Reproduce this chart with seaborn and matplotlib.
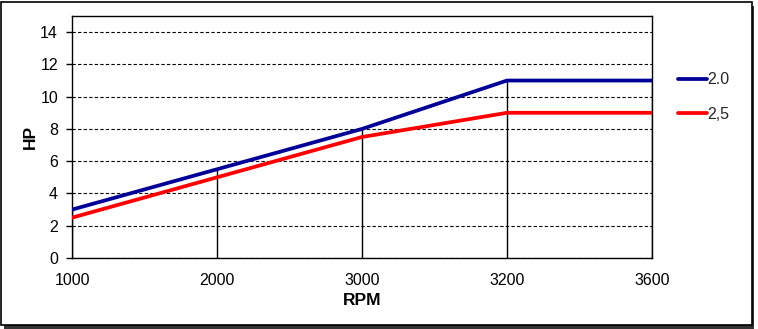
import matplotlib
matplotlib.use("Agg")
import matplotlib.pyplot as plt
from matplotlib.patches import Rectangle
import numpy as np
import pandas as pd
import seaborn as sns

rpm = ["1000", "2000", "3000", "3200", "3600"]
hp_20 = [3.0, 5.5, 8.0, 11.0, 11.0]
hp_25 = [2.5, 5.0, 7.5, 9.0, 9.0]
series_names = ["2.0", "2,5"]
series_colors = ["#000099", "#FF0000"]
y_ticks = [0, 2, 4, 6, 8, 10, 12, 14]

sns.set_theme(style="white")
plt.rcParams["font.family"] = ["Liberation Sans", "DejaVu Sans"]

W, H, DPI = 758, 329, 100
fig = plt.figure(figsize=(W / DPI, H / DPI), dpi=DPI)

# outer chart frame with a drop shadow, kept behind the axes
fig.patches.append(Rectangle((4 / W, 0 / H), 750 / W, 323 / H, transform=fig.transFigure,
                             facecolor="#333333", edgecolor="none", zorder=-3))
fig.patches.append(Rectangle((1 / W, 4 / H), 751 / W, 323 / H, transform=fig.transFigure,
                             facecolor="white", edgecolor="black", linewidth=1.2, zorder=-2))

ax = fig.add_axes([72 / W, (H - 258) / H, 580 / W, 242 / H])
ax.set_facecolor("white")

idx = np.arange(len(rpm))
df = pd.DataFrame({
    "pos": np.concatenate([idx, idx]),
    "hp": hp_20 + hp_25,
    "series": [series_names[0]] * len(rpm) + [series_names[1]] * len(rpm),
})

# drop lines from the highest series down to the axis
tops = np.maximum(hp_20, hp_25)
ax.vlines(idx, 0, tops, colors="black", linewidth=1.0, zorder=2)

sns.lineplot(data=df, x="pos", y="hp", hue="series", palette=series_colors,
             linewidth=2.7, ax=ax, legend=False, zorder=3)

ax.set_xlim(0, len(rpm) - 1)
ax.set_ylim(0, 15)
ax.set_xticks(idx)
ax.set_xticklabels(rpm)
ax.set_yticks(y_ticks)
ax.yaxis.grid(True, color="black", linestyle=(0, (3, 2)), linewidth=0.8)
ax.xaxis.grid(False)
ax.set_axisbelow(True)
for s in ax.spines.values():
    s.set_visible(True)
    s.set_color("black")
    s.set_linewidth(1.0)

ax.tick_params(axis="y", direction="out", length=4, width=1, color="black",
               labelsize=11.5, pad=6, left=True)
ax.tick_params(axis="x", length=0, labelsize=11.5, pad=10.5)
for lbl in ax.get_xticklabels() + ax.get_yticklabels():
    lbl.set_color("black")

ax.set_xlabel("RPM", fontsize=12.5, fontweight="bold", color="black", labelpad=4)
ax.set_ylabel("HP", fontsize=12.5, fontweight="bold", color="black", labelpad=2)

# legend
handles = [plt.Line2D([], [], color=c, linewidth=2.7) for c in series_colors]
fig.legend(handles, series_names, loc="center left",
           bbox_to_anchor=(664 / W, (H - 97) / H), frameon=False,
           fontsize=11.5, handlelength=1.8, handletextpad=0.0,
           labelspacing=1.2)

fig.savefig("out.png", dpi=DPI)
